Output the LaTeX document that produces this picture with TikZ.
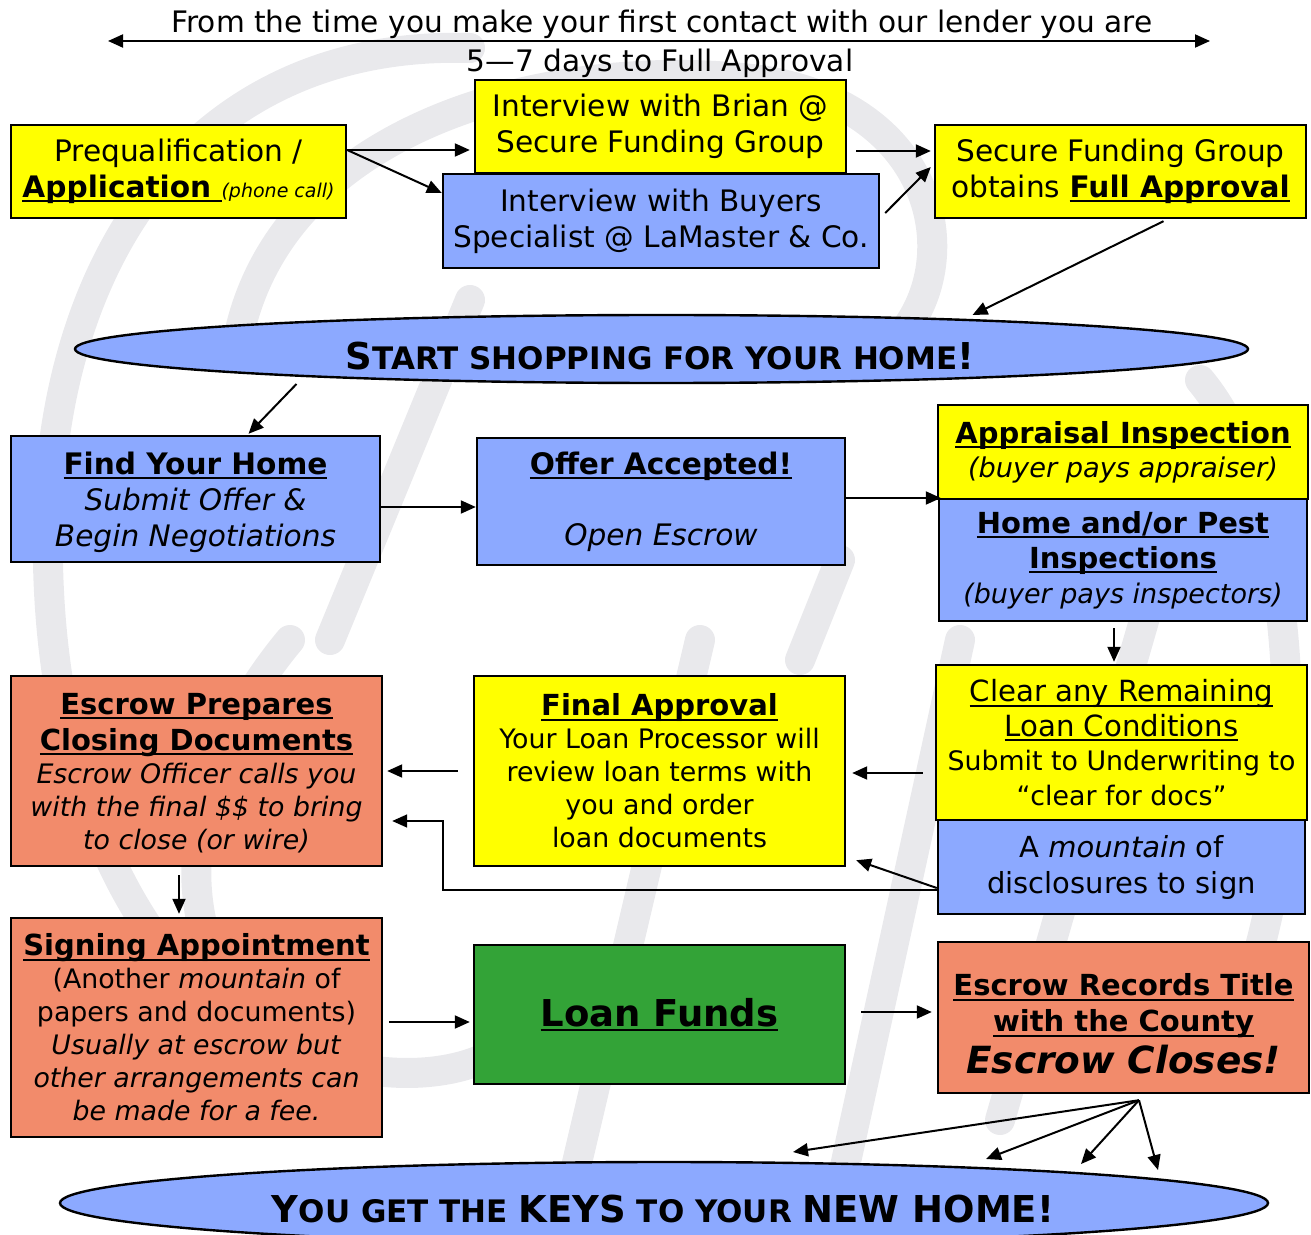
\documentclass[tikz,border=0pt]{standalone}
\usepackage{fontspec}
\setmainfont{DejaVu Sans}
\usetikzlibrary{arrows.meta,calc,shapes.geometric}
\definecolor{byellow}{HTML}{FFFF00}
\definecolor{bblue}{HTML}{8CA9FF}
\definecolor{bsalmon}{HTML}{F28B6B}
\definecolor{bgreen}{HTML}{33A337}
\definecolor{wmark}{HTML}{E9E9EC}
\newcommand\myul[1]{\leavevmode\setbox0=\hbox{#1}\rlap{\rule[-2.4pt]{\wd0}{1pt}}\box0}
\newcommand\hd[1]{{\fontsize{14.5}{16.5}\selectfont\myul{\textbf{#1}}}}
\newcommand\bigfs{\fontsize{18.5}{20}\selectfont}
\newcommand\smfs{\fontsize{15.5}{18}\selectfont}
\tikzset{
  box/.style={draw, line width=1.2pt, inner sep=0pt, align=center, font=\fontsize{14.8}{18}\selectfont},
  tight/.style={font=\fontsize{13.4}{16.5}\selectfont},
  arr/.style={line width=1pt, -{Triangle[length=7.5pt,width=6.5pt]}},
  wm/.style={draw=wmark, line width=15pt, line cap=round},
  oval/.style={draw, ellipse, line width=1.2pt, fill=bblue, inner sep=0pt},
}
\begin{document}
\begin{tikzpicture}[x=0.5pt,y=-0.5pt]
\useasboundingbox (0,0) rectangle (1311,1235);
% watermark
\draw[wm] (470,48) .. controls (200,40) and (55,250) .. (48,520) .. controls (42,800) and (150,1010) .. (330,1075);
\draw[wm] (240,330) .. controls (290,120) and (560,55) .. (760,80) .. controls (930,105) and (965,250) .. (905,330);
\draw[wm] (290,640) .. controls (190,760) and (170,900) .. (230,990) .. controls (300,1080) and (420,1085) .. (480,1060);
\draw[wm] (330,640) -- (470,300);
\draw[wm] (560,1235) -- (700,640);
\draw[wm] (830,1235) -- (960,640);
\draw[wm] (1000,1120) -- (1150,600);
\draw[wm] (800,660) -- (840,560);
\draw[wm] (1250,980) .. controls (1310,800) and (1300,500) .. (1200,380);
% title
\node (t1) at (662,24) {\fontsize{14.8}{16}\selectfont From the time you make your first contact with our lender you are};
\node (t2) at (660,63) {\fontsize{14.8}{16}\selectfont 5\textemdash 7 days to Full Approval};
\coordinate (tl) at (108,41);
\coordinate (tr) at (1210,41);
\draw[line width=1pt, {Triangle[length=7.5pt,width=6.5pt]}-{Triangle[length=7.5pt,width=6.5pt]}] (tl) -- (tr);
% top row
\node[box, fill=byellow, minimum width=167.5pt, minimum height=46.5pt] (pre) at (178.5,171.5) {Prequalification /\\\myul{\textbf{Application\ }}{\fontsize{9.5}{10}\selectfont\itshape (phone call)}};
\node[box, fill=byellow, minimum width=185.5pt, minimum height=46.5pt] (brian) at (660.5,126.5) {Interview with Brian @\\Secure Funding Group};
\node[box, fill=bblue, minimum width=218pt, minimum height=47pt] (buyers) at (661,221) {Interview with Buyers\\Specialist @ LaMaster \& Co.};
\node[box, fill=byellow, minimum width=185.5pt, minimum height=46.5pt] (secure) at (1120.5,171.5) {Secure Funding Group\\obtains \myul{\textbf{Full Approval}}};
% start ellipse
\node[oval, minimum width=586.5pt, minimum height=34pt] (start) at (661.5,349) {};
\node (starttxt) at (660,356) {\textbf{{\bigfs S}{\smfs TART SHOPPING FOR YOUR HOME}{\bigfs !}}};
% second row
\node[box, fill=bblue, minimum width=184.5pt, minimum height=63pt] (find) at (195.5,499) {};
\node[align=center, font=\fontsize{14.8}{18}\selectfont] (findtxt) at (195.5,502) {\myul{\textbf{Find Your Home}}\\\textit{Submit Offer \&}\\\textit{Begin Negotiations}};
\node[box, fill=bblue, minimum width=184pt, minimum height=63.5pt] (offer) at (661,501.5) {\myul{\textbf{Offer Accepted!}}\\[17.5pt]\textit{Open Escrow}};
\node[box, fill=byellow, minimum width=185pt, minimum height=47pt, font=\fontsize{13.6}{17}\selectfont] (appr) at (1123,452) {\hd{Appraisal Inspection}\\\textit{(buyer pays appraiser)}};
\node[box, fill=bblue, minimum width=184pt, minimum height=61pt, font=\fontsize{13.5}{17.5}\selectfont] (home) at (1123,560) {\hd{Home and/or Pest}\\\hd{Inspections}\\\textit{(buyer pays inspectors)}};
% third row
\node[box, fill=byellow, minimum width=185.5pt, minimum height=77.5pt, font=\fontsize{13.4}{17.2}\selectfont] (clear) at (1121.5,742.5) {{\fontsize{14.6}{17}\selectfont\myul{Clear any Remaining}}\\{\fontsize{14.6}{17}\selectfont\myul{Loan Conditions}}\\Submit to Underwriting to\\“clear for docs”};
\node[box, fill=bblue, minimum width=183.5pt, minimum height=47pt, font=\fontsize{14.5}{18}\selectfont] (mount) at (1121.5,867) {A \textit{mountain} of\\disclosures to sign};
\node[box, tight, fill=byellow, minimum width=185.5pt, minimum height=95pt] (final) at (659.5,771) {\hd{Final Approval}\\Your Loan Processor will\\review loan terms with\\you and order\\loan documents};
\node[box, tight, fill=bsalmon, minimum width=185.5pt, minimum height=95pt] (escp) at (196.5,771) {};
\node[align=center, tight] (escptxt) at (196.5,773) {\hd{Escrow Prepares}\\[1.5pt]\hd{Closing Documents}\\\textit{Escrow Officer calls you}\\\textit{with the final \$\$ to bring}\\\textit{to close (or wire)}};
% fourth row
\node[box, tight, fill=bsalmon, minimum width=185.5pt, minimum height=109.5pt] (sign) at (196.5,1027.5) {\hd{Signing Appointment}\\(Another \textit{mountain} of\\papers and documents)\\\textit{Usually at escrow but}\\\textit{other arrangements can}\\\textit{be made for a fee.}};
\node[box, fill=bgreen, minimum width=185.5pt, minimum height=69.5pt] (loan) at (659.5,1014.5) {\bigfs\myul{\textbf{Loan Funds}}};
\node[box, fill=bsalmon, minimum width=185.5pt, minimum height=75.5pt] (rec) at (1123.5,1017.5) {};
\node[align=center, font=\fontsize{14.5}{18}\selectfont] (rectxt) at (1123.5,1024) {\hd{Escrow Records Title}\\\hd{with the County}\\[3pt]{\fontsize{18.7}{20}\selectfont\textbf{\textit{Escrow Closes!}}}};
% keys ellipse
\node[oval, minimum width=604pt, minimum height=41pt] (keys) at (664,1203) {};
\node (keystxt) at (663,1209) {\textbf{{\fontsize{18.5}{20}\selectfont Y}{\fontsize{15.5}{18}\selectfont OU GET THE }{\fontsize{18.5}{20}\selectfont KEYS}{\fontsize{15.5}{18}\selectfont\ TO YOUR }{\fontsize{18.5}{20}\selectfont NEW HOME!}}};
% arrows
\draw[arr] (pre.east |- 0,150) -- ($(brian.west |- 0,150)+(-4,0)$);
\draw[arr] (pre.east |- 0,150) -- (buyers.west |- 0,193);
\draw[arr] ($(brian.east |- 0,151)+(9,0)$) -- ($(secure.west |- 0,151)+(-3,0)$);
\draw[arr] ($(buyers.east |- 0,213)+(5,0)$) -- ($(secure.west |- 0,167)+(-3,0)$);
\draw[arr] ($(secure.south)+(43,2)$) -- ($(start.center)+(311,-34)$);
\draw[arr] ($(start.center)+(-365,35)$) -- ($(find.north)+(53,-1)$);
\draw[arr] (find.east |- 0,507) -- (offer.west |- 0,507);
\draw[arr] (offer.east |- 0,498) -- ($(appr.south west |- 0,498)+(4,0)$);
\draw[arr] ($(home.south)+(-9,6)$) -- ($(clear.north)+(-7.5,-2)$);
\draw[arr] ($(clear.west |- 0,773)+(-12,0)$) -- ($(final.east |- 0,773)+(6,0)$);
\draw[arr] ($(final.west |- 0,771)+(-15,0)$) -- ($(escp.east |- 0,771)+(4,0)$);
\draw[arr] (mount.west |- 0,888) -- ($(final.south east)+(10,-7)$);
\coordinate (kink) at (443,821);
\draw[line width=0.8pt, -{Triangle[length=7.5pt,width=6.5pt]}] (mount.west |- 0,890) -| (kink) -- ($(escp.east |- 0,821)+(9,0)$);
\draw[arr] ($(escp.south)+(-17.5,8)$) -- ($(sign.north)+(-17.5,-3)$);
\draw[arr] ($(sign.east |- 0,1022)+(6,0)$) -- ($(loan.west |- 0,1022)+(-3,0)$);
\draw[arr] ($(loan.east |- 0,1012)+(15,0)$) -- ($(rec.west |- 0,1012)+(-5,0)$);
\coordinate (fan) at ($(rec.south)+(15.5,6)$);
\coordinate (k1) at (793,1152);
\coordinate (k2) at (986,1159);
\coordinate (k3) at (1081,1164);
\coordinate (k4) at (1158,1170);
\draw[arr] (fan) -- (k1);
\draw[arr] (fan) -- (k2);
\draw[arr] (fan) -- (k3);
\draw[arr] (fan) -- (k4);
\end{tikzpicture}
\end{document}
